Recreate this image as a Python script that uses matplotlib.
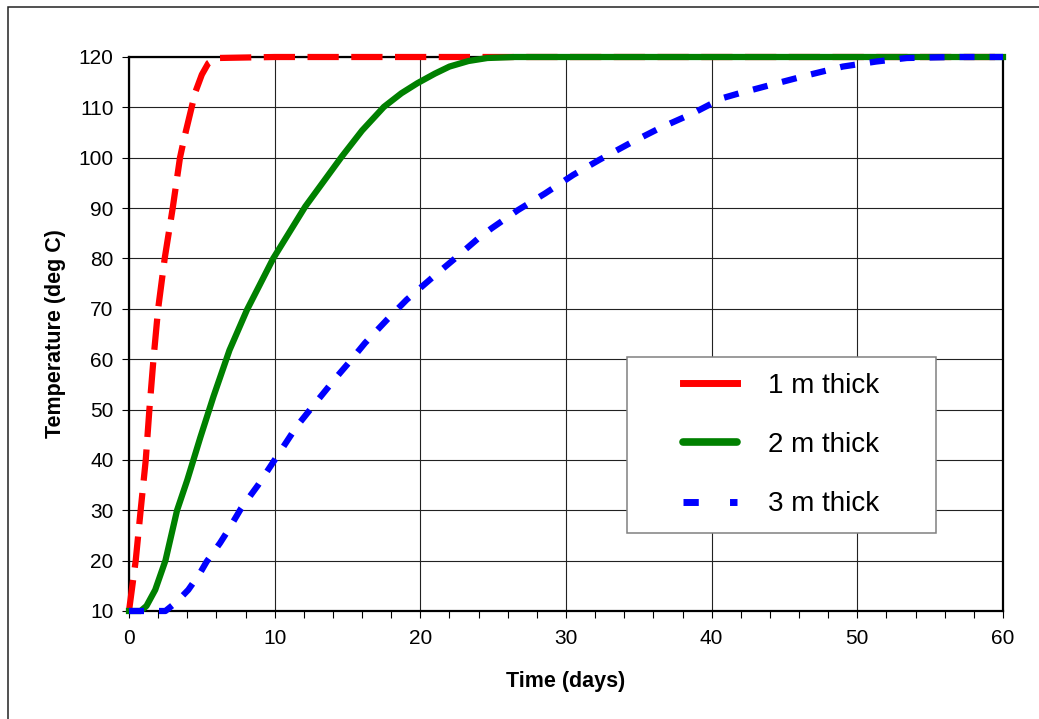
import matplotlib.pyplot as plt
from matplotlib.lines import Line2D
from matplotlib.patches import Rectangle
from matplotlib.ticker import MultipleLocator

plt.rcParams['font.family'] = ['Liberation Sans', 'DejaVu Sans']

# 1 m thick
t1 = [0, 0.46, 0.8, 1.15, 1.4, 1.68, 2.0, 2.45, 3.0, 3.5, 3.8, 4.3, 4.55, 5.0, 5.45, 6.0,
      10, 20, 30, 40, 50, 60]
T1 = [10, 20, 30, 40, 50, 60, 70, 80, 90, 100, 104, 110, 113, 116.5, 118.8, 119.8,
      120, 120, 120, 120, 120, 120]

# 2 m thick
t2 = [0, 0.8, 1.2, 1.8, 2.5, 3.3, 4.0, 4.9, 5.8, 6.9, 8.1, 9.9, 12.1, 14.6, 16.0, 17.5,
      18.7, 19.8, 21.0, 22.0, 23.3, 24.6, 26.5, 30, 40, 50, 60]
T2 = [10, 10, 11, 14.2, 20, 30, 36, 44.5, 52.6, 61.8, 69.8, 80, 90.3, 100.2, 105.4, 110.1,
      112.8, 114.8, 116.7, 118.1, 119.2, 119.8, 120, 120, 120, 120, 120]

# 3 m thick
t3 = [0, 2.5, 3.27, 4.07, 4.87, 5.33, 6.25, 6.8, 7.7, 8.86, 10.0, 11.5, 12.77, 14.26, 15.06,
      16.2, 17.7, 19.06, 20.78, 22.38, 23.98, 24.9, 26.7, 28.56, 30.5, 32.3, 34.4, 36.45,
      38.7, 40.7, 41.9, 44.5, 46.6, 49.0, 51.3, 53.4, 56.6, 60]
T3 = [10, 10, 11.8, 14.2, 17.5, 19.8, 23.5, 26, 30.4, 35, 40, 46.6, 51.2, 56.5, 59.2,
      63.2, 67.8, 71.8, 76.1, 80, 84, 86, 89.6, 92.9, 96.6, 99.6, 102.9, 105.9,
      108.8, 111.8, 112.8, 114.8, 116.4, 118.1, 119.1, 119.8, 120, 120]

labels = ['1 m thick', '2 m thick', '3 m thick']
colors = ['#FF0000', '#008000', '#0000FF']

fig = plt.figure(figsize=(10.39, 7.19), dpi=100)
ax = fig.add_axes([129 / 1039, 1 - 611 / 719, 874 / 1039, 554 / 719])

# outer chart border
fig.add_artist(Rectangle((7.5 / 1039, -0.1), 1.2, 1.1 - 7 / 719, transform=fig.transFigure,
                         fill=False, ec='#222222', lw=1.1, clip_on=False))

ax.plot(t1, T1, color=colors[0], lw=4.5, dashes=(5, 2), clip_on=False, zorder=3)
ax.plot(t2, T2, color=colors[1], lw=4.5, clip_on=False, zorder=3)
ax.plot(t3, T3, color=colors[2], lw=4.5, dashes=(2.4, 2.4), clip_on=False, zorder=3)

ax.set_xlim(0, 60)
ax.set_ylim(10, 120)
ax.xaxis.set_major_locator(MultipleLocator(10))
ax.xaxis.set_minor_locator(MultipleLocator(2))
ax.yaxis.set_major_locator(MultipleLocator(10))
ax.grid(True, which='major', color='#222222', lw=0.8)
ax.set_axisbelow(True)
ax.tick_params(axis='both', which='both', direction='out', length=5, width=0.8, labelsize=15)
ax.tick_params(axis='x', pad=8)
ax.tick_params(axis='y', pad=6)
for s in ax.spines.values():
    s.set_linewidth(1.6)
    s.set_color('black')

ax.set_xlabel('Time (days)', fontsize=15.5, fontweight='bold', va='center')
ax.xaxis.set_label_coords(0.5, (611 - 681) / 554)
ax.set_ylabel('Temperature (deg C)', fontsize=15.5, fontweight='bold', va='center')
ax.yaxis.set_label_coords((55 - 129) / 874, 0.5)

# legend frame
ax.add_patch(Rectangle((0.5698, 0.1408), 0.3535, 0.3177, transform=ax.transAxes,
                       fc='white', ec='#808080', lw=1.1, zorder=5))
handles = [Line2D([], [], color=colors[0], lw=5),
           Line2D([], [], color=colors[1], lw=5.5, solid_capstyle='round'),
           Line2D([], [], color=colors[2], lw=5, dashes=(2.2, 4.5))]
leg = ax.legend(handles, labels, loc='center left', bbox_to_anchor=(0.6339, 0.2996),
                frameon=False, fontsize=20, handlelength=1.95, handletextpad=1.1,
                labelspacing=1.2, borderpad=0, borderaxespad=0)
leg.set_zorder(6)

fig.savefig('out.png', dpi=100)
